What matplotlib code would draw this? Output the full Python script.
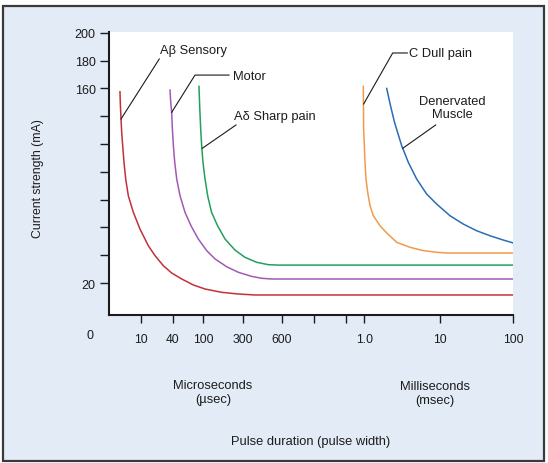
import numpy as np
import matplotlib.pyplot as plt
from matplotlib.patches import Rectangle
from matplotlib.scale import FuncScale

plt.rcParams['font.family'] = ['Liberation Sans', 'DejaVu Sans']

# strength-duration curves, pulse duration in usec, current in mA
red_us = [4.0, 4.08, 4.19, 4.31, 4.50, 4.76, 5.12, 5.73, 7.10, 9.46, 13.6, 18.3, 26.4, 38.2, 52.4, 74.2, 105, 167, 266, 372, 100000]
red_ma = [157.6, 147.6, 138.0, 128.4, 118.8, 106.8, 94.8, 82.8, 70.9, 58.8, 46.9, 39.7, 32.5, 27.2, 22.9, 18.6, 15.7, 13.3, 12.1, 11.4, 11.4]

purple_us = [35.5, 36.6, 38.2, 39.4, 40.8, 42.5, 45.1, 49.8, 57.8, 69.2, 86.1, 110, 139, 192, 266, 351, 419, 500, 100000]
purple_ma = [158.8, 150.0, 142.8, 130.8, 118.8, 106.8, 94.8, 82.8, 70.9, 61.2, 51.7, 43.3, 37.3, 31.7, 27.7, 24.8, 23.4, 22.9, 22.9]

green_us = [87.9, 89.7, 92.5, 95.3, 99.1, 105, 113, 126, 149, 183, 242, 312, 384, 471, 562, 100000]
green_ma = [161.5, 147.6, 130.8, 118.8, 106.8, 94.8, 82.8, 70.8, 61.2, 51.7, 43.7, 38.5, 34.9, 33.2, 32.9, 32.9]

orange_us = [994, 995, 996, 1001, 1021, 1053, 1108, 1190, 1316, 1612, 1975, 2677, 4016, 6024, 9036, 12330, 100000]
orange_ma = [161.5, 148.8, 130.8, 118.8, 106.8, 94.8, 85.2, 75.6, 68.4, 61.2, 56.0, 49.3, 45.7, 43.3, 42.1, 41.6, 41.6]

blue_us = [1975, 2218, 2506, 3117, 3815, 4918, 6666, 9036, 13690, 20800, 31640, 48080, 73130, 100000]
blue_ma = [160.0, 147.6, 135.6, 118.8, 106.8, 94.8, 84.0, 76.8, 68.4, 62.4, 57.6, 54.0, 50.9, 48.8]

# the duration axis is schematic: tick values and where they sit along the axis (0..1)
scale_us = [2.5, 10, 40, 100, 300, 600, 800, 900, 1000, 10000, 100000]
scale_pos = [0, 0.0799, 0.1576, 0.2332, 0.3307, 0.4279, 0.5078, 0.5869, 0.6315, 0.8187, 1.0]
x_ticks = [10, 40, 100, 300, 600, 800, 900, 1000, 10000, 100000]
x_labels = ['10', '40', '100', '300', '600', '', '', '1.0', '10', '100']

y_ticks = [20, 40, 60, 80, 100, 120, 140, 160, 180, 200]
y_labels = ['20', '', '', '', '', '', '', '160', '180', '200']

log_us = np.log10(scale_us)


def fwd(x):
    x = np.clip(np.asarray(x, dtype=float), 1e-6, None)
    return np.interp(np.log10(x), log_us, scale_pos)


def inv(p):
    return 10 ** np.interp(p, scale_pos, log_us)


ink = '#1c1c1c'
bg = '#e3ebf6'

fig = plt.figure(figsize=(5.48, 4.64), dpi=100)
fig.patch.set_facecolor('white')
fig.patches.append(Rectangle((0.0055, 0.0043), 0.987, 0.981, transform=fig.transFigure,
                             facecolor=bg, edgecolor='#3a3a3a', linewidth=1.6, zorder=-10))

ax = fig.add_axes([0.1989, 0.320, 0.7378, 0.6089])
ax.set_facecolor('white')
ax.set_xscale(FuncScale(ax.xaxis, (fwd, inv)))

ax.plot(red_us, red_ma, color='#c3303a', lw=1.1)
ax.plot(purple_us, purple_ma, color='#a05ab4', lw=1.1)
ax.plot(green_us, green_ma, color='#23a05a', lw=1.1)
ax.plot(orange_us, orange_ma, color='#f29a4a', lw=1.1)
ax.plot(blue_us, blue_ma, color='#2a6db5', lw=1.1)

ax.set_xlim(2.5, 100000)
ax.set_ylim(-2.66, 200.6)

ax.set_xticks(x_ticks)
ax.set_xticklabels(x_labels)
ax.set_yticks(y_ticks)
ax.set_yticklabels(y_labels)
ax.xaxis.set_minor_locator(plt.NullLocator())
ax.tick_params(axis='x', length=6, width=1.0, color=ink, pad=7.5, labelsize=8.7, labelcolor=ink)
ax.tick_params(axis='y', length=6.5, width=1.0, color=ink, pad=3, labelsize=9, labelcolor=ink)

for s in ['top', 'right']:
    ax.spines[s].set_visible(False)
for s in ['left', 'bottom']:
    ax.spines[s].set_color(ink)
    ax.spines[s].set_linewidth(1.5)

# labels with leader lines
tsize = 9.3
ax.plot([22.1, 4.19], [181.2, 138.0], color='#1a1a1a', lw=0.8)
ax.text(22.8, 187.8, 'A\u03b2 Sensory', ha='left', va='center', fontsize=tsize, color=ink)

ax.plot([205, 78.0, 38.2], [169.6, 169.6, 142.8], color='#1a1a1a', lw=0.8)
ax.text(227, 169.1, 'Motor', ha='left', va='center', fontsize=tsize, color=ink)

ax.plot([249, 97], [133.7, 116.9], color='#1a1a1a', lw=0.8)
ax.text(237, 139.9, 'A\u03b4 Sharp pain', ha='left', va='center', fontsize=tsize, color=ink)

ax.plot([3700, 2371, 996], [185.5, 185.5, 148.8], color='#1a1a1a', lw=0.8)
ax.text(3930, 185.5, 'C Dull pain', ha='left', va='center', fontsize=tsize, color=ink)

ax.plot([8770, 3214], [133.7, 116.9], color='#1a1a1a', lw=0.8)
ax.text(14890, 146.1, 'Denervated\nMuscle', ha='center', va='center', fontsize=tsize,
        color=ink, linespacing=1.15)

fig.text(0.164, 0.275, '0', ha='center', va='center', fontsize=9, color=ink)
fig.text(0.070, 0.616, 'Current strength (mA)', rotation=90, ha='center', va='center',
         fontsize=8.8, color=ink)
fig.text(0.3887, 0.153, 'Microseconds\n(\u00b5sec)', ha='center', va='center', fontsize=tsize,
         color=ink, linespacing=1.2)
fig.text(0.793, 0.151, 'Milliseconds\n(msec)', ha='center', va='center', fontsize=tsize,
         color=ink, linespacing=1.2)
fig.text(0.567, 0.0474, 'Pulse duration (pulse width)', ha='center', va='center',
         fontsize=tsize, color=ink)

fig.savefig('out.png', dpi=100)
